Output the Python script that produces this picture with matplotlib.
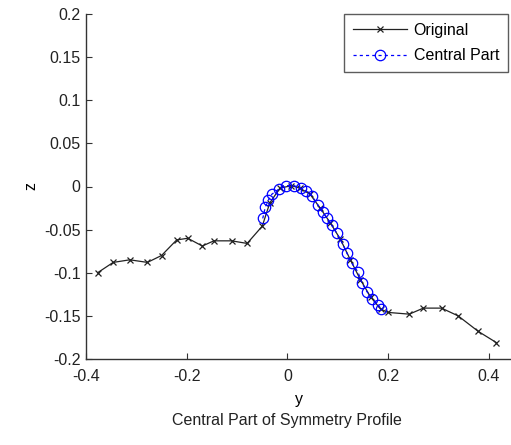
import matplotlib
matplotlib.use("Agg")
import matplotlib.pyplot as plt

plt.rcParams["font.family"] = ["Liberation Sans", "DejaVu Sans"]

# original profile (black, x markers)
orig_y = [-0.377, -0.346, -0.313, -0.278, -0.250, -0.220, -0.198, -0.169, -0.146,
          -0.111, -0.080, -0.050, -0.035, -0.015, 0.008, 0.025, 0.045, 0.065,
          0.085, 0.105, 0.125, 0.145, 0.165, 0.185, 0.200, 0.242, 0.270, 0.306,
          0.339, 0.379, 0.415]
orig_z = [-0.100, -0.088, -0.085, -0.088, -0.080, -0.062, -0.060, -0.069, -0.063,
          -0.063, -0.066, -0.046, -0.019, -0.002, 0.001, -0.002, -0.009, -0.025,
          -0.042, -0.061, -0.085, -0.108, -0.128, -0.142, -0.146, -0.148, -0.141,
          -0.141, -0.150, -0.168, -0.181]

# central part (blue, circles)
cen_y = [-0.049, -0.044, -0.038, -0.031, -0.017, -0.003, 0.013, 0.026, 0.037,
         0.049, 0.060, 0.070, 0.078, 0.088, 0.098, 0.110, 0.118, 0.128, 0.140,
         0.148, 0.158, 0.168, 0.180, 0.186]
cen_z = [-0.037, -0.024, -0.016, -0.009, -0.003, 0.001, 0.001, -0.002, -0.005,
         -0.011, -0.021, -0.030, -0.036, -0.045, -0.054, -0.067, -0.077, -0.089,
         -0.099, -0.112, -0.122, -0.130, -0.137, -0.142]

xticks = [-0.4, -0.2, 0, 0.2, 0.4]
xtick_labels = ["-0.4", "-0.2", "0", "0.2", "0.4"]
yticks = [0.2, 0.15, 0.1, 0.05, 0, -0.05, -0.1, -0.15, -0.2]
ytick_labels = ["0.2", "0.15", "0.1", "0.05", "0", "-0.05", "-0.1", "-0.15", "-0.2"]

FS = 11.5

fig = plt.figure(figsize=(5.11, 4.45), dpi=100)
ax = fig.add_axes([86 / 511, 86 / 445, 1 - 86 / 511, 345 / 445])

ax.plot(orig_y, orig_z, color="#222222", lw=0.9, marker="x", ms=5, mew=0.9,
        label="Original", clip_on=False)
ax.plot(cen_y, cen_z, color="blue", lw=0.9, ls=(0, (2.5, 2.5)), marker="o",
        ms=7.5, mfc="none", mew=0.9, label="Central Part", clip_on=False)

ax.set_xlim(-0.4, 0.444)
ax.set_ylim(-0.2, 0.2)
ax.set_xticks(xticks)
ax.set_xticklabels(xtick_labels)
ax.set_yticks(yticks)
ax.set_yticklabels(ytick_labels)
ax.tick_params(direction="in", length=4, labelsize=FS, colors="#333333",
               labelcolor="#222222")
ax.tick_params(axis="x", pad=7)
ax.tick_params(axis="y", pad=4)
for s in ["top", "right"]:
    ax.spines[s].set_visible(False)
for s in ["left", "bottom"]:
    ax.spines[s].set_color("#333333")
    ax.spines[s].set_linewidth(1.0)

ax.set_xlabel("y", fontsize=FS, labelpad=6)
ax.set_ylabel("z", fontsize=FS, labelpad=4)

leg = ax.legend(loc="upper right", bbox_to_anchor=(1.0 - 3 / 425, 1.0),
                fontsize=FS, frameon=True, fancybox=False, handlelength=3.4,
                borderpad=0.55, labelspacing=0.65, handletextpad=0.4,
                borderaxespad=0)
leg.get_frame().set_edgecolor("#333333")
leg.get_frame().set_linewidth(1.0)

fig.text(287 / 511, 1 - 421 / 445, "Central Part of Symmetry Profile",
         ha="center", va="center", fontsize=FS, color="#222222")

fig.savefig("out.png", dpi=100)
